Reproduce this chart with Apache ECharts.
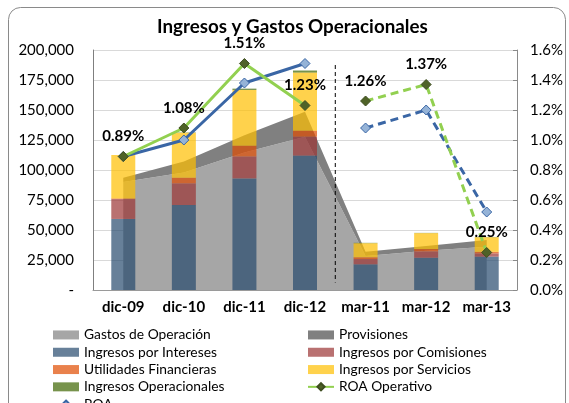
<!DOCTYPE html>
<html><head><meta charset="utf-8">
<script src="https://cdn.jsdelivr.net/npm/echarts@6/dist/echarts.min.js"></script>
<style>html,body{margin:0;padding:0;background:#fff}#c{width:569px;height:403px}</style>
</head><body><div id="c"></div>
<script>
const categories = ['dic-09','dic-10','dic-11','dic-12','mar-11','mar-12','mar-13'];
const gastosOperacion = [90000, 98000, 114600, 127800, 28300, 32800, 36100];
const provisiones = [3500, 9000, 14400, 20800, 3600, 3900, 5600];
const ingresosIntereses = [59200, 70800, 93000, 112000, 21400, 26900, 27800];
const ingresosComisiones = [16600, 18100, 18300, 15800, 4400, 5300, 2700];
const utilidadesFinancieras = [500, 4700, 9000, 5000, 1500, 1900, 1300];
const ingresosServicios = [36200, 37500, 46400, 48400, 11700, 13300, 12200];
const ingresosOperacionales = [0, 300, 1100, 1700, 300, 200, 200];
const roaOperativo = [0.0089, 0.0108, 0.0151, 0.0123, 0.0126, 0.0137, 0.0025];
const roa = [0.0089, 0.0100, 0.0138, 0.0151, 0.0108, 0.0120, 0.0052];
const firstQuarterIndex = 4; // series split: annual (dic) vs quarterly (mar)

const FONT = 'Lato';
const solidPart = a => a.map((v, i) => i < firstQuarterIndex ? v : '-');
const dashedPart = a => a.map((v, i) => i >= firstQuarterIndex ? v : '-');

const chart = echarts.init(document.getElementById('c'), null, {renderer: 'canvas'});
const pctLabel = {
  show: true, position: 'top', distance: 7,
  fontFamily: FONT, fontWeight: 'bold', fontSize: 15, color: '#000',
  formatter: p => (p.value * 100).toFixed(2) + '%'
};
const roaOpStyle = {
  type: 'line', name: 'ROA Operativo', yAxisIndex: 1, symbol: 'diamond', symbolSize: 10,
  itemStyle: {color: '#4F6228', borderColor: '#3E4D20', borderWidth: 1},
  label: pctLabel, z: 5
};
const roaStyle = {
  type: 'line', name: 'ROA', yAxisIndex: 1, symbol: 'diamond', symbolSize: 10,
  itemStyle: {color: '#95B3D7', borderColor: '#3A66A5', borderWidth: 1}, z: 4
};
const bar = (name, data, color) => ({
  type: 'bar', name, data, stack: 'ing', barWidth: 24,
  itemStyle: {color}, z: 3
});
const area = (name, data, color) => ({
  type: 'line', name, data, stack: 'gas', symbol: 'none',
  lineStyle: {width: 0}, areaStyle: {color, opacity: 1}, itemStyle: {color}, z: 2
});
const legendItem = n => (n.indexOf('ROA') === 0 ? {name: n} : {name: n, icon: 'rect'});
const legendBase = {
  orient: 'vertical', top: 326.3, height: 120, padding: 0, itemWidth: 26, itemHeight: 9, itemGap: 0,
  textStyle: {fontFamily: FONT, fontSize: 13.8, color: '#000', lineHeight: 17.3}
};

chart.setOption({
  animation: false,
  textStyle: {fontFamily: FONT},
  title: {
    text: 'Ingresos y Gastos Operacionales', left: 152, top: 12,
    textStyle: {fontFamily: FONT, fontWeight: 'bold', fontSize: 18.8, color: '#000'}
  },
  graphic: [{
    type: 'rect', silent: true,
    shape: {x: 8.5, y: 7.5, width: 557, height: 440, r: 12},
    style: {fill: 'none', stroke: '#8A8A8A', lineWidth: 1}
  }],
  grid: {left: 93, right: 52, top: 50, bottom: 113},
  legend: [
    Object.assign({}, legendBase, {left: 52,
      data: ['Gastos de Operación', 'Ingresos por Intereses', 'Utilidades Financieras', 'Ingresos Operacionales', 'ROA'].map(legendItem)}),
    Object.assign({}, legendBase, {left: 307,
      data: ['Provisiones', 'Ingresos por Comisiones', 'Ingresos por Servicios', 'ROA Operativo'].map(legendItem)})
  ],
  xAxis: [
    {
      type: 'category', data: categories, boundaryGap: true,
      axisLine: {lineStyle: {color: '#9A9A9A'}}, axisTick: {show: false},
      axisLabel: {interval: 0, fontFamily: FONT, fontWeight: 'bold', fontSize: 15, color: '#000', margin: 10}
    },
    {type: 'value', min: 0, max: categories.length, show: false}
  ],
  yAxis: [
    {
      type: 'value', min: 0, max: 200000, interval: 25000,
      axisLine: {show: true, lineStyle: {color: '#7F7F7F'}}, axisTick: {show: false},
      splitLine: {lineStyle: {color: '#D9D9D9'}},
      axisLabel: {fontFamily: FONT, fontSize: 15, color: '#000', margin: 19,
        formatter: v => v === 0 ? '-' : v.toLocaleString('en-US')}
    },
    {
      type: 'value', min: 0, max: 0.016, interval: 0.002, position: 'right',
      axisLine: {show: true, lineStyle: {color: '#8A8A8A'}},
      axisTick: {show: true, inside: true, length: 4, lineStyle: {color: '#8A8A8A'}},
      splitLine: {show: false},
      axisLabel: {fontFamily: FONT, fontSize: 15, color: '#000', margin: 13,
        formatter: v => (v * 100).toFixed(1) + '%'}
    }
  ],
  series: [
    area('Gastos de Operación', gastosOperacion, '#A6A6A6'),
    area('Provisiones', provisiones, '#808080'),
    bar('Ingresos por Intereses', ingresosIntereses, 'rgba(39,74,109,0.7)'),
    bar('Ingresos por Comisiones', ingresosComisiones, 'rgba(155,52,52,0.7)'),
    bar('Utilidades Financieras', utilidadesFinancieras, 'rgba(224,76,0,0.7)'),
    bar('Ingresos por Servicios', ingresosServicios, 'rgba(255,191,0,0.7)'),
    bar('Ingresos Operacionales', ingresosOperacionales, 'rgba(61,101,0,0.7)'),
    Object.assign({}, roaStyle, {data: solidPart(roa), lineStyle: {color: '#3A66A5', width: 3}}),
    Object.assign({}, roaStyle, {data: dashedPart(roa), lineStyle: {color: '#3A66A5', width: 3, type: [8, 5]}}),
    Object.assign({}, roaOpStyle, {data: solidPart(roaOperativo), lineStyle: {color: '#92D050', width: 3}}),
    Object.assign({}, roaOpStyle, {data: dashedPart(roaOperativo), lineStyle: {color: '#92D050', width: 3, type: [8, 5]}}),
    {
      type: 'line', name: 'separador', xAxisIndex: 1, yAxisIndex: 1, symbol: 'none', silent: true,
      data: [[firstQuarterIndex, 0.015], [firstQuarterIndex, 0.0005]],
      lineStyle: {color: '#000', width: 1, type: [4, 3]}, z: 3
    }
  ]
});
</script></body></html>
